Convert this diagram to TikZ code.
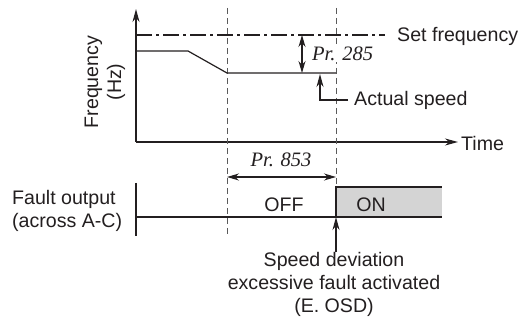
\documentclass[tikz,border=0pt]{standalone}
\usepackage{fontspec}
\setmainfont{Liberation Sans}
\newfontfamily\prfont{Liberation Serif}
\usetikzlibrary{arrows.meta, positioning}
\definecolor{InkGray}{HTML}{231F20}
\definecolor{DashGray}{HTML}{5A5A5A}
\definecolor{OnFill}{HTML}{D4D4D4}

\begin{document}
\begin{tikzpicture}[x=1pt, y=-1pt,
  lbl/.style={font=\fontsize{19.6}{23}\selectfont, text=InkGray, inner sep=0pt},
  prlbl/.style={font=\prfont\itshape\fontsize{20.5}{23}\selectfont, text=InkGray, fill=white, inner sep=1pt},
  guide/.style={draw=DashGray, line width=1pt, dash pattern=on 6pt off 4pt},
  axis/.style={draw=InkGray, line width=1.2pt},
  tip/.style={-{Stealth[length=13pt,width=7pt]}},
  dbl/.style={{Stealth[length=12pt,width=7pt]}-{Stealth[length=12pt,width=7pt]}}]
  \useasboundingbox (0,0) rectangle (519,320);
  % frequency axes
  \coordinate (O) at (136,142);
  \coordinate (ytop) at (136,9);
  \coordinate (xend) at (458,142);
  \draw[axis, tip] (O) -- (ytop);
  \draw[axis, tip] (O) -- (xend);
  \node[lbl, anchor=west] (time) at (461,143) {Time};
  \node[lbl, rotate=90, align=center] (freq) at (105,82) {Frequency\\(Hz)};
  % time marks
  \coordinate (t1top) at (227,8);
  \coordinate (t1bot) at (227,236);
  \coordinate (t2top) at (336,8);
  \coordinate (t2bot) at (336,187);
  \draw[guide] (t1top) -- (t1bot);
  \draw[guide] (t2top) -- (t2bot);
  % set frequency and actual speed
  \coordinate (setA) at (136,35);
  \coordinate (setB) at (385,35);
  \draw[axis, dash pattern=on 16pt off 4pt on 3pt off 4pt] (setA) -- (setB);
  \node[lbl, anchor=west] (setf) at (397,36) {Set frequency};
  \coordinate (actA) at (136,51);
  \coordinate (actB) at (188,51);
  \coordinate (actC) at (227,73);
  \coordinate (actD) at (336,73);
  \draw[axis] (actA) -- (actB) -- (actC) -- (actD);
  \coordinate (p285a) at (302,35);
  \coordinate (p285b) at (302,73);
  \draw[axis, dbl] (p285a) -- (p285b);
  \node[prlbl, anchor=west] (pr285) at (311,54) {Pr. 285};
  \coordinate (actTip) at (320,74);
  \coordinate (actBend) at (320,100);
  \coordinate (actEnd) at (348,100);
  \draw[axis, tip] (actEnd) -- (actBend) -- (actTip);
  \node[lbl, anchor=west] (actual) at (354,100) {Actual speed};
  % detection time
  \coordinate (p853a) at (227,177);
  \coordinate (p853b) at (336,177);
  \draw[axis, dbl] (p853a) -- (p853b);
  \node[prlbl] (pr853) at (281,160) {Pr. 853};
  % fault output
  \coordinate (fTop) at (136,183);
  \coordinate (fBot) at (136,236);
  \coordinate (fBase) at (136,217);
  \coordinate (onA) at (336,217);
  \coordinate (onB) at (336,187);
  \coordinate (onC) at (442,187);
  \coordinate (onD) at (442,217);
  \fill[OnFill] (onB) rectangle (onD);
  \draw[axis] (fTop) -- (fBot);
  \draw[axis] (fBase) -- (onA) -- (onB) -- (onC);
  \draw[axis] (onA) -- (onD);
  \node[lbl, align=left, anchor=west] (fault) at (12,211) {Fault output\\(across A-C)};
  \node[lbl] (off) at (284,205) {OFF};
  \node[lbl] (on) at (371,205) {ON};
  \node[lbl, align=center] (osd) at (334,284) {Speed deviation\\excessive fault activated\\(E. OSD)};
  \draw[axis, tip] (osd.north -| onA) -- (onA);
\end{tikzpicture}
\end{document}
